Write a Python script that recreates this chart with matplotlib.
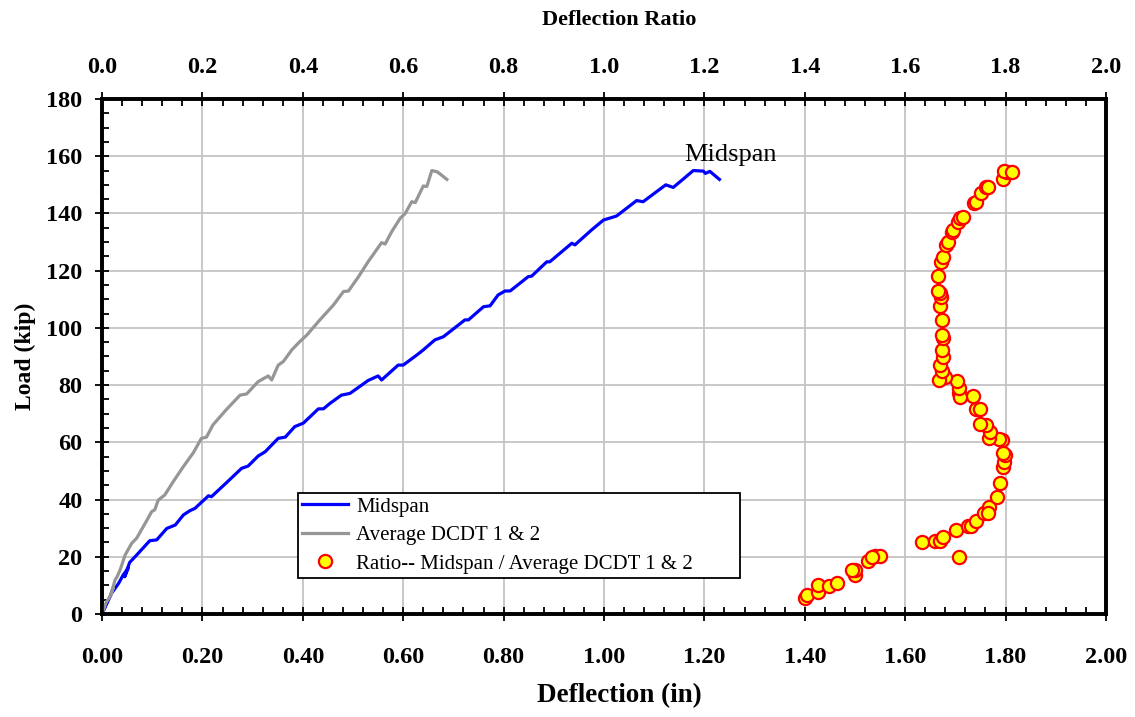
import matplotlib as mpl
mpl.use("Agg")
import matplotlib.pyplot as plt
from matplotlib.ticker import MultipleLocator, FormatStrFormatter
from matplotlib.lines import Line2D

plt.rcParams['font.family'] = ['Liberation Serif', 'DejaVu Serif']

# Midspan deflection (in) vs load (kip)
mid_defl = [0, 0.019, 0.033, 0.042, 0.052, 0.045, 0.055, 0.069, 0.095, 0.109, 0.129, 0.146,
            0.162, 0.175, 0.185, 0.212, 0.218, 0.248, 0.278, 0.291, 0.311, 0.325, 0.351, 0.365,
            0.384, 0.401, 0.431, 0.441, 0.454, 0.477, 0.494, 0.530, 0.550, 0.557, 0.590, 0.600,
            0.627, 0.640, 0.663, 0.680, 0.723, 0.730, 0.760, 0.773, 0.789, 0.803, 0.813, 0.849,
            0.856, 0.886, 0.892, 0.936, 0.942, 0.975, 0.999, 1.025, 1.065, 1.078, 1.123, 1.138,
            1.178, 1.198, 1.202, 1.211, 1.230]
mid_load = [0, 7.2, 10.7, 13.6, 16.0, 13.0, 18.0, 20.6, 25.6, 25.9, 29.9, 31.1,
            34.6, 36.1, 36.9, 41.3, 41.0, 45.9, 50.9, 51.7, 55.2, 56.7, 61.4, 61.8,
            65.5, 66.7, 71.7, 71.7, 73.6, 76.5, 77.1, 81.6, 83.2, 81.8, 87.0, 87.0,
            90.5, 92.3, 95.8, 96.9, 102.8, 102.8, 107.4, 107.7, 111.5, 112.9, 112.9, 117.9,
            118.1, 123.1, 123.1, 129.6, 129.0, 134.2, 137.7, 139.1, 144.5, 144.1, 150.0, 149.1,
            155.0, 154.8, 154.0, 154.7, 151.9]

# Average DCDT 1 & 2
avg_defl = [0, 0.008, 0.016, 0.022, 0.018, 0.026, 0.030, 0.036, 0.046, 0.059, 0.069, 0.086,
            0.099, 0.105, 0.112, 0.125, 0.142, 0.162, 0.182, 0.198, 0.208, 0.221, 0.248, 0.275,
            0.288, 0.311, 0.331, 0.338, 0.351, 0.361, 0.378, 0.394, 0.408, 0.434, 0.461, 0.481,
            0.491, 0.511, 0.530, 0.557, 0.564, 0.577, 0.594, 0.604, 0.617, 0.624, 0.640, 0.647,
            0.657, 0.667, 0.672, 0.687]
avg_load = [0, 4.0, 6.1, 9.0, 7.0, 11.9, 13.0, 15.4, 20.6, 24.7, 26.5, 31.7,
            35.8, 36.4, 39.8, 41.6, 46.3, 51.5, 56.4, 61.4, 61.8, 66.1, 71.5, 76.5,
            76.9, 81.2, 83.2, 81.8, 87.0, 88.2, 92.3, 95.2, 97.5, 102.8, 108.0, 112.7,
            112.9, 117.9, 123.1, 129.8, 129.3, 133.6, 138.3, 140.0, 144.1, 143.8, 149.6, 149.4,
            155.0, 154.6, 154.0, 151.9]

# Ratio Midspan / Average DCDT 1 & 2
ratio = [1.400, 1.405, 1.426, 1.427, 1.448, 1.465, 1.500, 1.500, 1.495, 1.525, 1.540, 1.550,
         1.533, 1.634, 1.659, 1.669, 1.676, 1.708, 1.701, 1.726, 1.732, 1.741, 1.757, 1.768,
         1.765, 1.782, 1.789, 1.794, 1.796, 1.799, 1.794, 1.792, 1.786, 1.768, 1.769, 1.762,
         1.749, 1.742, 1.749, 1.736, 1.708, 1.709, 1.708, 1.703, 1.679, 1.668, 1.673, 1.669,
         1.675, 1.673, 1.675, 1.673, 1.673, 1.669, 1.671, 1.669, 1.665, 1.666, 1.671, 1.675,
         1.681, 1.685, 1.693, 1.696, 1.706, 1.710, 1.716, 1.737, 1.741, 1.752, 1.761, 1.766,
         1.794, 1.802, 1.796, 1.812]
ratio_load = [5.5, 6.6, 7.6, 10.1, 9.9, 10.7, 13.6, 15.4, 15.4, 18.6, 20.4, 20.4,
              20.0, 25.3, 25.5, 25.5, 27.0, 20.0, 29.4, 30.8, 30.8, 32.6, 35.4, 37.3,
              35.4, 40.8, 45.9, 51.3, 53.2, 55.6, 56.4, 60.8, 61.0, 61.4, 63.7, 66.1,
              66.4, 71.5, 71.5, 76.2, 77.1, 76.0, 78.9, 81.5, 82.9, 81.8, 85.1, 87.0,
              89.7, 92.3, 96.4, 97.5, 102.8, 107.7, 110.9, 112.3, 113.0, 118.1, 123.1, 124.7,
              129.0, 130.1, 133.6, 134.2, 137.1, 138.3, 138.9, 143.5, 144.1, 147.3, 149.4, 149.1,
              151.9, 154.4, 155.0, 154.6]

fig = plt.figure(figsize=(11.35, 7.17), dpi=100)
ax = fig.add_axes([0.0899, 0.1437, 0.8845, 0.7182])
ax2 = ax.twiny()

ax.plot(mid_defl, mid_load, color='#0000ff', lw=2.3, solid_joinstyle='round', zorder=3)
ax.plot(avg_defl, avg_load, color='#969696', lw=2.3, solid_joinstyle='round', zorder=3)
ax2.plot(ratio, ratio_load, 'o', ms=9.5, mfc='#ffff00', mec='#ff0000', mew=1.6, zorder=3)

ax.set_xlim(0, 2.0)
ax.set_ylim(0, 180)
ax2.set_xlim(0, 2.0)

ax.xaxis.set_major_locator(MultipleLocator(0.2))
ax.xaxis.set_minor_locator(MultipleLocator(0.04))
ax.xaxis.set_major_formatter(FormatStrFormatter('%.2f'))
ax.yaxis.set_major_locator(MultipleLocator(20))
ax.yaxis.set_minor_locator(MultipleLocator(5))
ax2.xaxis.set_major_locator(MultipleLocator(0.2))
ax2.xaxis.set_minor_locator(MultipleLocator(0.04))
ax2.xaxis.set_major_formatter(FormatStrFormatter('%.1f'))

ax.grid(True, which='major', color='#c4c4c4', lw=1.3)
ax.set_axisbelow(True)

for a in (ax, ax2):
    for s in a.spines.values():
        s.set_linewidth(2.6)
        s.set_color('black')
    a.tick_params(which='major', direction='inout', length=10, width=1.3, labelsize=17.5)
    a.tick_params(which='minor', direction='in', length=5, width=1.3)
    for lab in a.get_xticklabels() + a.get_yticklabels():
        lab.set_fontweight('bold')
ax.tick_params(axis='x', pad=19)
ax.tick_params(axis='y', pad=9, right=False)
ax2.tick_params(axis='x', pad=10)

ax.set_xlabel('Deflection (in)', fontsize=19.5, fontweight='bold', labelpad=11)
ax.set_ylabel('Load (kip)', fontsize=17, fontweight='bold', labelpad=7)
ax2.set_xlabel('Deflection Ratio', fontsize=16, fontweight='bold', labelpad=23)
ax.xaxis.label.set_x(0.515)
ax2.xaxis.label.set_x(0.515)

ax.text(1.251, 158.5, 'Midspan', fontsize=19, ha='center', va='baseline')

handles = [Line2D([], [], color='#0000ff', lw=2.3),
           Line2D([], [], color='#969696', lw=2.3),
           Line2D([], [], ls='none', marker='o', ms=9.5, mfc='#ffff00', mec='#ff0000', mew=1.6)]
labels = ['Midspan', 'Average DCDT 1 & 2', 'Ratio-- Midspan / Average DCDT 1 & 2']
leg = ax2.legend(handles, labels, loc='lower left', bbox_to_anchor=(0.195, 0.07, 0.44, 0.17),
                 mode='expand', fontsize=15, frameon=True, fancybox=False, edgecolor='black',
                 framealpha=1, borderpad=0.2, labelspacing=0.43, handlelength=2.2,
                 handletextpad=0.4, borderaxespad=0)
leg.get_frame().set_linewidth(1.3)

fig.savefig('out.png', dpi=100)
